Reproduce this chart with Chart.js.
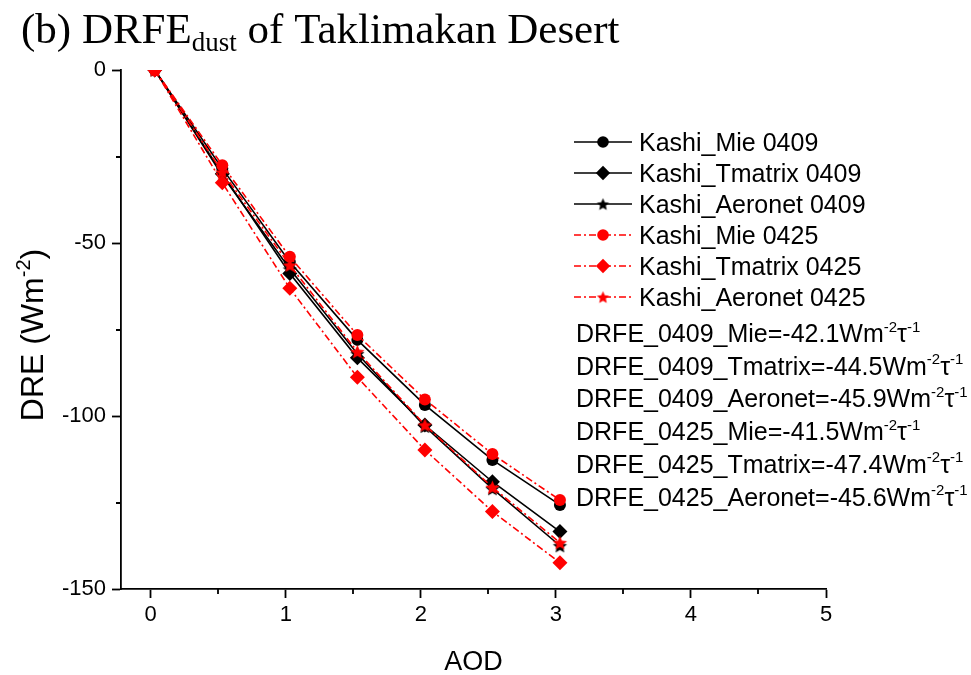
<!DOCTYPE html>
<html>
<head>
<meta charset="utf-8">
<script src="https://cdn.jsdelivr.net/npm/chart.js@4.4.1/dist/chart.umd.min.js"></script>
<style>
  html, body { margin: 0; padding: 0; background: #ffffff; }
  canvas { display: block; }
</style>
</head>
<body>
<canvas id="chart" width="971" height="675"></canvas>
<script>
// AOD sample points
const aod = [0.03, 0.53, 1.03, 1.53, 2.03, 2.53, 3.03];

// Direct radiative effect (Wm-2) for each optical model and date
const mie0409      = [0, -28.5, -55.5, -78.0,  -96.8, -112.7, -125.7];
const tmatrix0409  = [0, -30.0, -58.8, -83.2, -102.6, -119.0, -133.4];
const aeronet0409  = [0, -30.5, -57.5, -82.0, -103.0, -121.0, -137.5];
const mie0425      = [0, -27.5, -54.0, -76.6,  -95.2, -111.0, -124.3];
const tmatrix0425  = [0, -32.6, -63.1, -88.8, -109.8, -127.6, -142.4];
const aeronet0425  = [0, -29.5, -56.4, -81.4, -102.6, -120.6, -136.6];

const seriesNames = [
  'Kashi_Mie 0409', 'Kashi_Tmatrix 0409', 'Kashi_Aeronet 0409',
  'Kashi_Mie 0425', 'Kashi_Tmatrix 0425', 'Kashi_Aeronet 0425'
];

// Radiative forcing efficiency annotations
const drfeNames  = ['DRFE_0409_Mie', 'DRFE_0409_Tmatrix', 'DRFE_0409_Aeronet',
                    'DRFE_0425_Mie', 'DRFE_0425_Tmatrix', 'DRFE_0425_Aeronet'];
const drfeValues = [-42.1, -44.5, -45.9, -41.5, -47.4, -45.6];

// Axis ticks (labelled every 1 AOD / 50 Wm-2, minor ticks in between)
const xTicks = [0, 0.5, 1, 1.5, 2, 2.5, 3, 3.5, 4, 4.5, 5];
const yTicks = [-150, -125, -100, -75, -50, -25, 0];

const BLACK = '#000000';
const RED = '#ff0000';
const SANS = '"Liberation Sans", Arial, sans-serif';
const SERIF = '"Liberation Serif", "Times New Roman", serif';

// Filled five-pointed star used as a point marker
function starMarker(color, r) {
  const s = Math.ceil(r * 2 + 2);
  const c = document.createElement('canvas');
  c.width = s; c.height = s;
  const g = c.getContext('2d');
  g.fillStyle = color;
  g.beginPath();
  for (let i = 0; i < 10; i++) {
    const a = -Math.PI / 2 + i * Math.PI / 5;
    const rr = i % 2 ? r * 0.46 : r;
    g.lineTo(s / 2 + rr * Math.cos(a), s / 2 + r * 0.1 + rr * Math.sin(a));
  }
  g.closePath();
  g.fill();
  return c;
}

const starBlack = starMarker(BLACK, 7.5);
const starRed = starMarker(RED, 7.5);
const starBlackSmall = starMarker(BLACK, 6.5);
const starRedSmall = starMarker(RED, 6.5);

const DASHDOT = [7, 3, 2, 3];

function series(idx, values, color, style, dashed, order, legendStyle, legendRadius) {
  const radius = style === 'circle' ? 6 : (style === 'rectRot' ? 7.5 : 7);
  return {
    label: seriesNames[idx],
    data: aod.map((x, i) => ({ x: x, y: values[i] })),
    borderColor: color,
    backgroundColor: color,
    borderWidth: 1.6,
    borderDash: dashed ? DASHDOT : [],
    pointStyle: style,
    pointRadius: radius,
    pointBackgroundColor: color,
    pointBorderColor: color,
    pointBorderWidth: 0,
    tension: 0,
    order: order,
    legendStyle: legendStyle,
    legendRadius: legendRadius
  };
}

const datasets = [
  series(0, mie0409,     BLACK, 'circle',  false, 2, 'circle', 5.8),
  series(1, tmatrix0409, BLACK, 'rectRot', false, 2, 'rectRot', 7.2),
  series(2, aeronet0409, BLACK, starBlack, false, 2, starBlackSmall, 6),
  series(3, mie0425,     RED,   'circle',  true,  1, 'circle', 5.8),
  series(4, tmatrix0425, RED,   'rectRot', true,  1, 'rectRot', 7.2),
  series(5, aeronet0425, RED,   starRed,   true,  1, starRedSmall, 6)
];

// Text with superscript pieces: parts = [[text, isSup], ...]
function drawRich(ctx, parts, x, y, size, supSize, family) {
  let cx = x;
  for (const [t, sup] of parts) {
    ctx.font = (sup ? supSize : size) + 'px ' + family;
    ctx.fillText(t, cx, sup ? y - size * 0.42 : y);
    cx += ctx.measureText(t).width;
  }
  return cx - x;
}
function richWidth(ctx, parts, size, supSize, family) {
  let w = 0;
  for (const [t, sup] of parts) {
    ctx.font = (sup ? supSize : size) + 'px ' + family;
    w += ctx.measureText(t).width;
  }
  return w;
}

const decorations = {
  id: 'decorations',
  afterDraw(chart) {
    const ctx = chart.ctx;
    const xs = chart.scales.x, ys = chart.scales.y;
    const area = chart.chartArea;
    ctx.save();

    // minor tick marks
    ctx.strokeStyle = BLACK;
    ctx.lineWidth = 1.8;
    ctx.beginPath();
    xTicks.filter(v => v % 1 !== 0).forEach(v => {
      const px = Math.round(xs.getPixelForValue(v));
      ctx.moveTo(px, area.bottom);
      ctx.lineTo(px, area.bottom + 5);
    });
    yTicks.filter(v => v % 50 !== 0).forEach(v => {
      const py = Math.round(ys.getPixelForValue(v));
      ctx.moveTo(area.left - 5, py);
      ctx.lineTo(area.left, py);
    });
    ctx.stroke();

    ctx.fillStyle = BLACK;
    ctx.textBaseline = 'alphabetic';
    ctx.textAlign = 'left';

    // title
    ctx.font = '43px ' + SERIF;
    let tx = 21;
    ctx.fillText('(b) DRFE', tx, 43);
    tx += ctx.measureText('(b) DRFE').width;
    ctx.font = '27px ' + SERIF;
    ctx.fillText('dust', tx, 51);
    tx += ctx.measureText('dust').width;
    ctx.font = '43px ' + SERIF;
    ctx.fillText(' of Taklimakan Desert', tx, 43);

    // axis titles
    ctx.font = '27px ' + SANS;
    ctx.textAlign = 'center';
    ctx.fillText('AOD', (area.left + area.right) / 2, 670);
    ctx.textAlign = 'left';

    const yParts = [['DRE (Wm', false], ['-2', true], [')', false]];
    const yw = richWidth(ctx, yParts, 32, 20, SANS);
    ctx.save();
    ctx.translate(43, 335 + yw / 2);
    ctx.rotate(-Math.PI / 2);
    drawRich(ctx, yParts, 0, 0, 32, 20, SANS);
    ctx.restore();

    // legend: line segment with marker, then label
    chart.data.datasets.forEach((d, i) => {
      const cy = 142 + i * 31;
      ctx.save();
      ctx.strokeStyle = d.borderColor;
      ctx.lineWidth = 1.6;
      ctx.setLineDash(d.borderDash);
      ctx.beginPath();
      ctx.moveTo(574, cy);
      ctx.lineTo(632, cy);
      ctx.stroke();
      ctx.setLineDash([]);
      ctx.fillStyle = d.borderColor;
      Chart.helpers.drawPoint(ctx, {
        pointStyle: d.legendStyle, radius: d.legendRadius, rotation: 0, borderWidth: 0
      }, 603, cy);
      ctx.restore();
      ctx.font = '25px ' + SANS;
      ctx.fillText(d.label, 639, cy + 9);
    });

    // DRFE annotations
    drfeNames.forEach((n, i) => {
      const base = 342 + i * 32.7;
      const parts = [[n + '=' + drfeValues[i].toFixed(1) + 'Wm', false], ['-2', true],
                     ['\u03C4', false], ['-1', true]];
      drawRich(ctx, parts, 576, base, 25, 15, SANS);
    });

    ctx.restore();
  }
};

new Chart(document.getElementById('chart'), {
  type: 'line',
  data: { datasets: datasets },
  options: {
    responsive: false,
    animation: false,
    devicePixelRatio: 1,
    layout: { padding: { left: 0, top: 70, right: 145, bottom: 0 } },
    plugins: {
      legend: { display: false },
      tooltip: { enabled: false },
      title: { display: false }
    },
    scales: {
      x: {
        type: 'linear',
        min: -0.22,
        max: 5,
        afterBuildTicks(scale) { scale.ticks = xTicks.map(v => ({ value: v })); },
        afterFit(scale) { scale.height = 86; },
        border: { display: true, color: BLACK, width: 1.8 },
        grid: {
          display: true,
          drawOnChartArea: false,
          drawTicks: true,
          tickLength: 9,
          tickWidth: 1.8,
          tickColor: (c) => (c.tick && c.tick.value % 1 === 0) ? BLACK : 'rgba(0,0,0,0)'
        },
        ticks: {
          autoSkip: false,
          maxRotation: 0,
          padding: 4,
          color: BLACK,
          font: { family: SANS, size: 22 },
          callback: (v) => (v % 1 === 0 ? String(v) : '')
        }
      },
      y: {
        type: 'linear',
        min: -150,
        max: 0,
        afterBuildTicks(scale) { scale.ticks = yTicks.map(v => ({ value: v })); },
        afterFit(scale) { scale.width = 121; },
        border: { display: true, color: BLACK, width: 1.8 },
        grid: {
          display: true,
          drawOnChartArea: false,
          drawTicks: true,
          tickLength: 9,
          tickWidth: 1.8,
          tickColor: (c) => (c.tick && c.tick.value % 50 === 0) ? BLACK : 'rgba(0,0,0,0)'
        },
        ticks: {
          autoSkip: false,
          padding: 6,
          color: BLACK,
          font: { family: SANS, size: 22 },
          callback: (v) => (v % 50 === 0 ? String(v) : '')
        }
      }
    }
  },
  plugins: [decorations]
});
</script>
</body>
</html>
